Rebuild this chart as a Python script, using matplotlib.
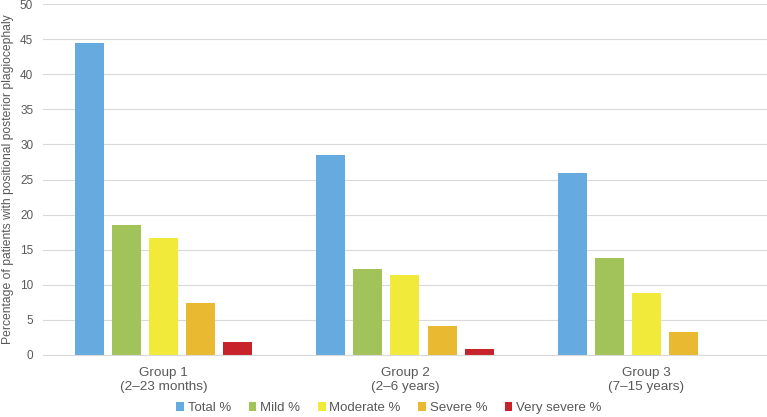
import numpy as np
import matplotlib
matplotlib.use("Agg")
import matplotlib.pyplot as plt

plt.rcParams.update({
    "font.family": ["Liberation Sans", "DejaVu Sans"],
    "font.size": 8,
})

groups = ["Group 1\n(2\u201323 months)", "Group 2\n(2\u20136 years)", "Group 3\n(7\u201315 years)"]
series = ["Total %", "Mild %", "Moderate %", "Severe %", "Very severe %"]
total = [44.4, 28.5, 26.0]
mild = [18.5, 12.2, 13.8]
moderate = [16.7, 11.4, 8.8]
severe = [7.4, 4.1, 3.3]
very_severe = [1.9, 0.8, 0.0]
colors = ["#65ABE0", "#A2C35A", "#F2EA3A", "#E8B931", "#C8232A"]

values = [total, mild, moderate, severe, very_severe]

fig = plt.figure(figsize=(7.67, 4.17), dpi=100)
ax = fig.add_axes([0.056, 0.149, 0.944, 0.841])

x = np.arange(len(groups))
slot = 0.1535
bw = 0.12
for i, (name, vals, c) in enumerate(zip(series, values, colors)):
    ax.bar(x + (i - 2) * slot, vals, width=bw, color=c, label=name, zorder=2)

ax.set_xlim(-0.5, 2.5)
ax.set_ylim(0, 50)
ax.set_yticks(range(0, 51, 5))
ax.grid(axis="y", color="#d9d9d9", lw=0.8, zorder=0)
ax.set_xticks(x)
ax.set_xticklabels(groups, color="#595959", fontsize=9.7, linespacing=1.15)
ax.tick_params(axis="y", colors="#595959", labelsize=8.5, length=0, pad=7)
ax.tick_params(axis="x", length=0, pad=9)
for s in ("top", "right", "left"):
    ax.spines[s].set_visible(False)
ax.spines["bottom"].set_color("#d9d9d9")
ax.set_ylabel("Percentage of patients with positional posterior plagiocephaly",
              color="#595959", fontsize=8.7, labelpad=4)

ax.legend(loc="center", bbox_to_anchor=(0.478, -0.152), ncol=5, frameon=False,
          fontsize=9.5, handlelength=0.6, handleheight=0.6, handletextpad=0.3,
          columnspacing=1.3, labelcolor="#595959")

fig.savefig("out.png", dpi=100)
